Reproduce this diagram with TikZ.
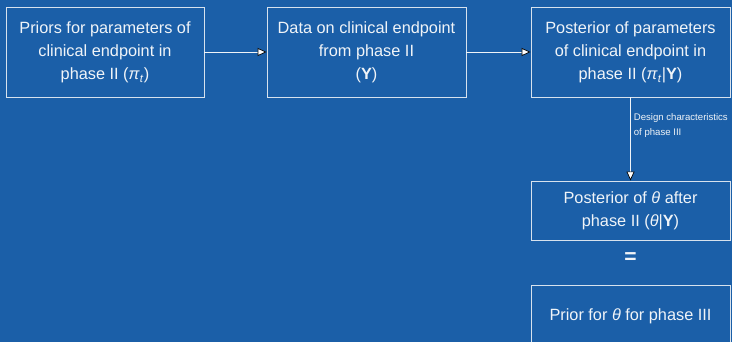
\documentclass[tikz,border=0pt]{standalone}
\usepackage{fontspec}
\setmainfont{Liberation Sans}
\usetikzlibrary{arrows.meta}
\definecolor{bg}{RGB}{27,95,168}
\definecolor{edge}{RGB}{215,226,238}
\definecolor{txt}{RGB}{240,244,248}
\tikzset{
  box/.style={draw=edge, line width=0.9pt, text=txt, align=center, font=\fontsize{16.3}{23}\selectfont, inner sep=0pt},
  conn/.style={draw=txt, line width=0.8pt, -{Triangle[color=black, fill=white, line width=0.7pt, length=9pt, width=8pt]}},
  small/.style={text=txt, align=left, font=\fontsize{9.6}{15}\selectfont, inner sep=0pt}
}
\newcommand{\pit}{\textit{π}\textsubscript{\textit{t}}}
\begin{document}
\begin{tikzpicture}[x=1pt,y=-1pt]
\useasboundingbox (0,0) rectangle (732,342);
\fill[bg] (0,0) rectangle (732,342);
\clip (0,0) rectangle (732,342);
\node[box, minimum width=198pt, minimum height=90pt] (b1) at (105,52) {\raisebox{5pt}{\begin{tabular}{@{}c@{}}Priors for parameters of\\clinical endpoint in\\phase II (\pit)\end{tabular}}};
\node[box, minimum width=199pt, minimum height=90pt] (b2) at (366.5,52) {\raisebox{3pt}{\begin{tabular}{@{}c@{}}Data on clinical endpoint\\from phase II\\(\textbf{Y})\end{tabular}}};
\node[box, minimum width=199pt, minimum height=90pt] (b3) at (630.5,52) {\raisebox{3pt}{\begin{tabular}{@{}c@{}}Posterior of parameters\\of clinical endpoint in\\phase II (\pit|\textbf{Y})\end{tabular}}};
\node[box, minimum width=199pt, minimum height=59pt] (b4) at (630.5,210.5) {\raisebox{1pt}{\begin{tabular}{@{}c@{}}Posterior of \textit{θ} after\\phase II (\textit{θ}|\textbf{Y})\end{tabular}}};
\node[text=txt, font=\fontsize{21}{21}\selectfont\bfseries, inner sep=0pt] (eq) at (630.5,258) {=};
\node[box, minimum width=199pt, minimum height=64pt] (b5) at (630.5,317) {\raisebox{4pt}{Prior for \textit{θ} for phase III}};
\draw[conn] (b1.east) -- (b2.west);
\draw[conn] (b2.east) -- (b3.west);
\draw[conn] (b3.south) -- node[small, anchor=north west, pos=0.2, xshift=3pt, yshift=1pt] (lab) {Design characteristics\\of phase III} (b4.north);
\end{tikzpicture}
\end{document}
